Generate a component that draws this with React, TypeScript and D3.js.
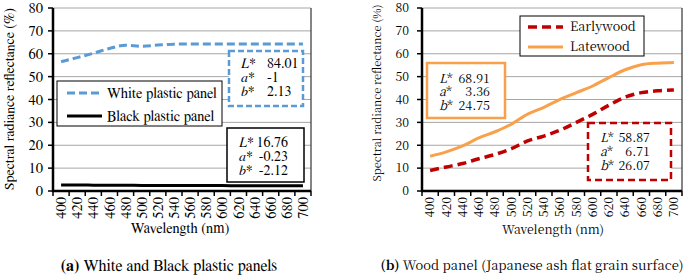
import React from "react";
import * as d3 from "d3";

const wavelengths = [400, 420, 440, 460, 480, 500, 520, 540, 560, 580, 600, 620, 640, 660, 680, 700];
const yTicks = [0, 10, 20, 30, 40, 50, 60, 70, 80];

const whitePanel = [56.5, 58.3, 60.2, 62.3, 63.7, 63.3, 63.8, 64.2, 64.3, 64.3, 64.3, 64.3, 64.3, 64.3, 64.3, 64.3];
const blackPanel = [2.6, 2.6, 2.55, 2.5, 2.5, 2.45, 2.45, 2.4, 2.4, 2.35, 2.35, 2.3, 2.3, 2.3, 2.25, 2.25];
const earlywood = [9, 10.5, 12, 14.1, 16, 18.5, 21.9, 24, 26.6, 30, 33.5, 37.5, 41, 43, 43.8, 44.2];
const latewood = [15.2, 17.1, 19.7, 23.2, 25.9, 29.2, 33.6, 36.6, 40.1, 43, 45.9, 49.6, 53, 55.2, 55.9, 56.2];

const whiteLab = ["84.01", "-1", "2.13"];
const blackLab = ["16.76", "-0.23", "-2.12"];
const latewoodLab = ["68.91", "3.36", "24.75"];
const earlywoodLab = ["58.87", "6.71", "26.07"];

const BLUE = "#5b9bd5";
const ORANGE = "#f9a04b";
const RED = "#c00000";

const TIMES = "'FreeSerif'";
const CENTURY = "'Noto Serif CJK SC'";

type Series = { name: string; values: number[]; color: string; width: number; dash?: string };

function LabBox({ x, y, w, h, color, dash, vals, font, fs, valX, lh, sw, ty, anchor }: any) {
  const labels = ["L", "a", "b"];
  return (
    <g>
      <rect x={x} y={y} width={w} height={h} fill="white" stroke={color} strokeWidth={sw} strokeDasharray={dash} />
      {labels.map((l, i) => (
        <g key={l}>
          <text x={x + 12} y={y + ty + i * lh} style={{ fontFamily: font, fontSize: fs }}>
            <tspan style={{ fontStyle: "italic" }}>{l}</tspan>*
          </text>
          <text x={x + valX} y={y + ty + i * lh} textAnchor={anchor} style={{ fontFamily: font, fontSize: fs }}>{vals[i]}</text>
        </g>
      ))}
    </g>
  );
}

function Panel({ left, right, top, bottom, series, font, fs, titleFs, titleY, titleX, labelGap, children }: any) {
  const x = d3.scaleBand<number>().domain(wavelengths).range([left, right]);
  const y = d3.scaleLinear().domain([0, 80]).range([bottom, top]);
  const line = (vals: number[]) =>
    d3.line<number>().x((_, i) => (x(wavelengths[i]) as number) + x.bandwidth() / 2).y((v) => y(v)).curve(d3.curveMonotoneX)(vals) as string;
  const edges = wavelengths.map((w) => x(w) as number).concat([right]);
  return (
    <g>
      {yTicks.filter((t) => t > 0).map((t) => (
        <line key={t} x1={left} x2={right} y1={y(t)} y2={y(t)} stroke="#a6a6a6" strokeWidth={1} />
      ))}
      <line x1={right} x2={right} y1={top} y2={bottom} stroke="#333" strokeWidth={1.2} />
      {series.map((s: Series) => (
        <path key={s.name} d={line(s.values)} fill="none" stroke={s.color} strokeWidth={s.width} strokeDasharray={s.dash} />
      ))}
      {children}
      <line x1={left} x2={left} y1={top} y2={bottom + 1} stroke="black" strokeWidth={2.5} />
      <line x1={left - 1} x2={right} y1={bottom} y2={bottom} stroke="black" strokeWidth={2.5} />
      {yTicks.map((t) => (
        <g key={t}>
          <line x1={left - 5} x2={left} y1={y(t)} y2={y(t)} stroke="black" strokeWidth={1.5} />
          <text x={left - labelGap} y={y(t)} dy="0.35em" textAnchor="end" style={{ fontFamily: font, fontSize: fs }}>{t}</text>
        </g>
      ))}
      {edges.map((e, i) => (
        <line key={i} x1={e} x2={e} y1={bottom} y2={bottom + 5} stroke="black" strokeWidth={1.5} />
      ))}
      {wavelengths.map((w) => {
        const cx = (x(w) as number) + x.bandwidth() / 2;
        return (
          <text key={w} transform={`translate(${cx},${bottom + 6}) rotate(-90)`} dy="0.35em" textAnchor="end" style={{ fontFamily: font, fontSize: fs }}>{w}</text>
        );
      })}
      <text x={titleX} y={titleY} dy="0.35em" textAnchor="middle" style={{ fontFamily: font, fontSize: titleFs }}>Wavelength (nm)</text>
    </g>
  );
}

export default function App() {
  return (
    <svg width={685} height={275} style={{ position: "absolute", left: 0, top: 0, background: "white" }}>
      <rect width={685} height={275} fill="white" />
      {/* Panel A */}
      <Panel left={53} right={311} top={8} bottom={191} font={TIMES} fs={14.5} titleFs={14.5} titleY={228} titleX={180} labelGap={10}
        series={[
          { name: "White plastic panel", values: whitePanel, color: BLUE, width: 3, dash: "8,4" },
          { name: "Black plastic panel", values: blackPanel, color: "black", width: 3 },
        ]}>
        <rect x={57} y={81} width={165} height={45} fill="white" stroke="black" strokeWidth={1} />
        <line x1={67} x2={102} y1={93} y2={93} stroke={BLUE} strokeWidth={3} strokeDasharray="8,4" />
        <text x={107} y={93} dy="0.35em" style={{ fontFamily: TIMES, fontSize: 14.5 }}>White plastic panel</text>
        <line x1={67} x2={102} y1={116} y2={116} stroke="black" strokeWidth={3} />
        <text x={107} y={116} dy="0.35em" style={{ fontFamily: TIMES, fontSize: 14.5 }}>Black plastic panel</text>
        <LabBox x={229} y={51} w={74} h={55} color={BLUE} dash="6,3" sw={2.5} vals={whiteLab} font={TIMES} fs={14} valX={38} anchor="start" lh={14} ty={17} />
        <LabBox x={227} y={128} w={77} h={54} color="black" sw={1.5} vals={blackLab} font={TIMES} fs={14} valX={61} anchor="end" lh={14} ty={19} />
      </Panel>
      <text transform="translate(9,99) rotate(-90)" dy="0.35em" textAnchor="middle" style={{ fontFamily: TIMES, fontSize: 14 }}>Spectral radiance reflectance (%)</text>

      {/* Panel B */}
      <Panel left={422} right={682} top={8} bottom={191} font={CENTURY} fs={12.3} titleFs={12.3} titleY={230} titleX={553} labelGap={13}
        series={[
          { name: "Earlywood", values: earlywood, color: RED, width: 3.5, dash: "9,5" },
          { name: "Latewood", values: latewood, color: ORANGE, width: 3 },
        ]}>
        <rect x={520} y={16} width={124} height={40} fill="white" stroke="black" strokeWidth={1} />
        <line x1={528} x2={563} y1={27} y2={27} stroke={RED} strokeWidth={3.5} strokeDasharray="9,5" />
        <text x={570} y={27} dy="0.35em" style={{ fontFamily: CENTURY, fontSize: 12.7 }}>Earlywood</text>
        <line x1={528} x2={563} y1={47} y2={47} stroke={ORANGE} strokeWidth={3} />
        <text x={570} y={47} dy="0.35em" style={{ fontFamily: CENTURY, fontSize: 12.7 }}>Latewood</text>
        <LabBox x={427} y={63} w={78} h={55} color={ORANGE} sw={2.5} vals={latewoodLab} font={CENTURY} fs={12.5} valX={63} anchor="end" lh={13.5} ty={19.5} />
        <LabBox x={588} y={123} w={83} h={57} color={RED} dash="7,4" sw={2.5} vals={earlywoodLab} font={CENTURY} fs={12.5} valX={62} anchor="end" lh={14} ty={18.5} />
      </Panel>
      <text transform="translate(377,93) rotate(-90)" dy="0.35em" textAnchor="middle" style={{ fontFamily: CENTURY, fontSize: 11 }}>Spectral radiance reflectance (%)</text>

      <text x={169} y={265} dy="0.35em" textAnchor="middle" style={{ fontFamily: TIMES, fontSize: 16 }}><tspan style={{ fontWeight: "bold" }}>(a)</tspan> White and Black plastic panels</text>
      <text x={532} y={265} dy="0.35em" textAnchor="middle" style={{ fontFamily: CENTURY, fontSize: 13 }}><tspan style={{ fontWeight: "bold" }}>(b)</tspan> Wood panel (Japanese ash flat grain surface)</text>
    </svg>
  );
}
